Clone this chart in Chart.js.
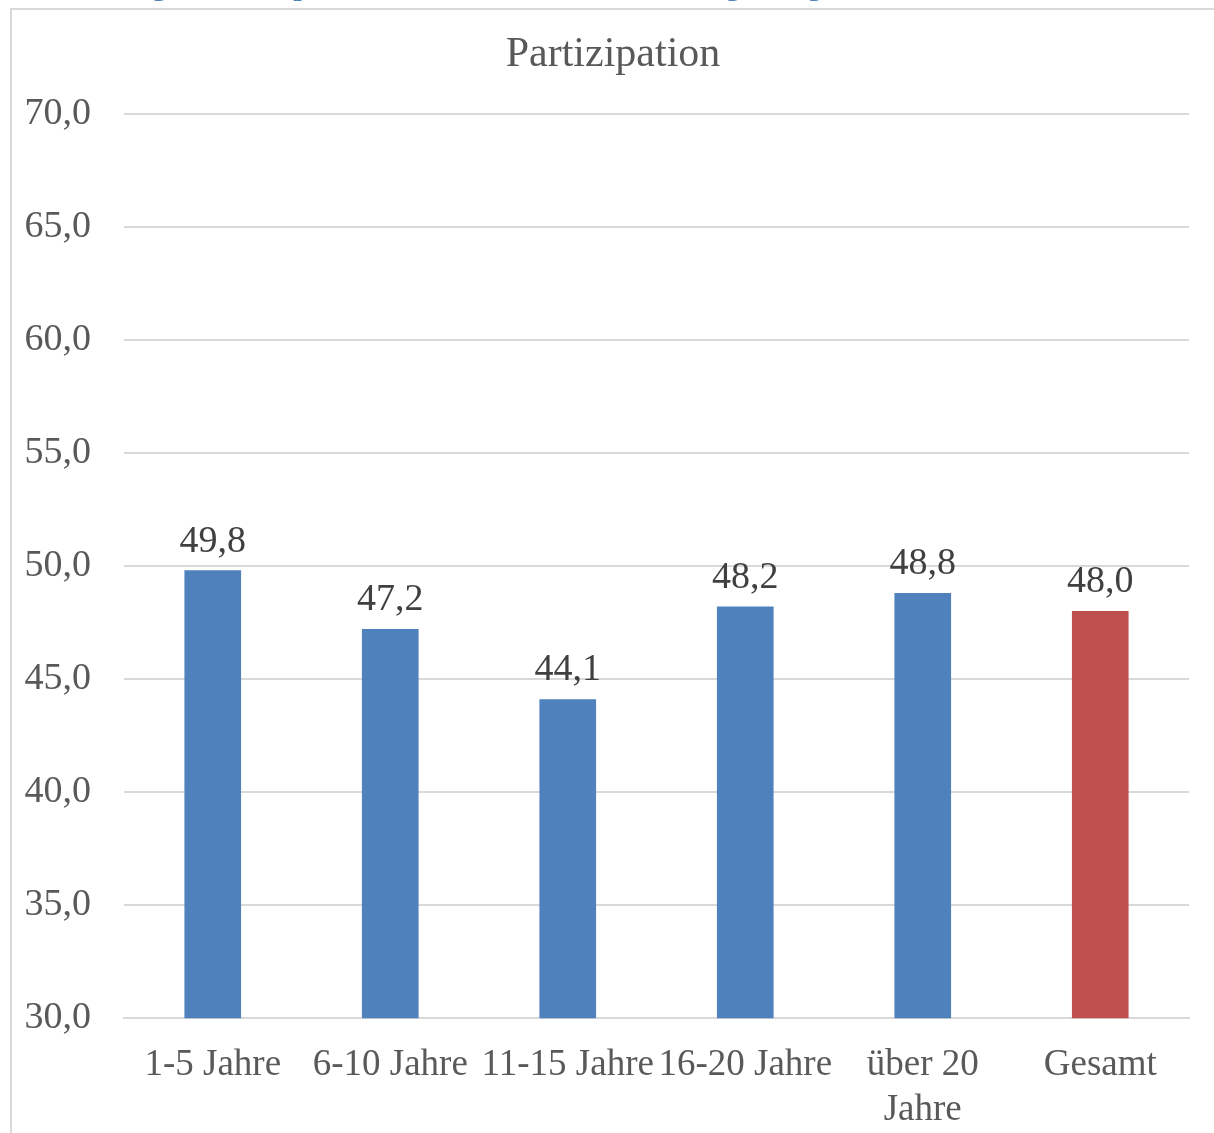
<!DOCTYPE html>
<html>
<head>
<meta charset="utf-8">
<script src="https://cdn.jsdelivr.net/npm/chart.js@4.4.0/dist/chart.umd.min.js"></script>
<style>
  html, body { margin: 0; padding: 0; background: #fff; overflow: hidden; }
  #wrap { position: relative; width: 1214px; height: 1133px; overflow: hidden; }
  #caption {
    position: absolute; left: 30px; top: -35px; white-space: nowrap;
    font-family: "Liberation Serif", "Times New Roman", serif; font-weight: bold;
    font-size: 30px; color: #4f81bd; line-height: 40px;
  }
  #frame {
    position: absolute; left: 10px; top: 8px; width: 1220px; height: 1140px;
    border: 2px solid #d9d9d9; box-sizing: border-box; background: #fff;
  }
  #asset { position: absolute; left: 0; top: 0; }
</style>
</head>
<body>
<div id="wrap">
  <div id="caption">Abbildung 7: Partizipation nach Dauer der Betriebszugehörigkeit</div>
  <div id="frame"></div>
  <canvas id="asset" width="1214" height="1157"></canvas>
</div>
<script>
// Chart data
const chartTitle = "Partizipation";
const categories = ["1-5 Jahre", "6-10 Jahre", "11-15 Jahre", "16-20 Jahre", ["über 20", "Jahre"], "Gesamt"];
const values = [49.8, 47.2, 44.1, 48.2, 48.8, 48.0];
const barColors = ["#4f81bd", "#4f81bd", "#4f81bd", "#4f81bd", "#4f81bd", "#c0504d"];
const yMin = 30;
const yMax = 70;
const yStep = 5;

const fontFamily = '"Liberation Serif", "Times New Roman", serif';
const fmt = v => v.toFixed(1).replace(".", ",");

// value labels above bars + title centred on the frame
const valueLabels = {
	id: "valueLabels",
	afterDatasetsDraw(chart) {
		const ctx = chart.ctx;
		const meta = chart.getDatasetMeta(0);
		ctx.save();
		ctx.font = "38px " + fontFamily;
		ctx.fillStyle = "#404040";
		ctx.textAlign = "center";
		ctx.textBaseline = "middle";
		meta.data.forEach((bar, i) => {
			ctx.fillText(fmt(values[i]), bar.x, bar.y - 29);
		});
		ctx.font = "42px " + fontFamily;
		ctx.fillStyle = "#595959";
		ctx.fillText(chartTitle, 613, 55);
		ctx.restore();
	}
};

const chartInputs = {
	type: "bar",
	data: {
		labels: categories,
		datasets: [{
			data: values,
			backgroundColor: barColors,
			borderWidth: 0,
			barThickness: 56
		}]
	},
	options: {
		responsive: false,
		animation: false,
		layout: { padding: { left: 0, right: 25, top: 114, bottom: 0 } },
		plugins: {
			legend: { display: false },
			tooltip: { enabled: false },
			title: { display: false }
		},
		scales: {
			x: {
				grid: { display: false, drawTicks: false },
				border: { display: true, color: "#d9d9d9", width: 2 },
				ticks: {
					color: "#595959",
					padding: 25,
					maxRotation: 0,
					autoSkip: false,
					font: { family: fontFamily, size: 37, lineHeight: 1.2 }
				}
			},
			y: {
				min: yMin,
				max: yMax,
				afterFit: axis => { axis.width = 124; },
				grid: { color: "#d9d9d9", lineWidth: 2, drawTicks: false },
				border: { display: false },
				ticks: {
					stepSize: yStep,
					color: "#595959",
					padding: 33,
					font: { family: fontFamily, size: 38 },
					callback: v => fmt(v)
				}
			}
		}
	},
	plugins: [valueLabels]
};

new Chart(document.getElementById("asset"), chartInputs);
</script>
</body>
</html>
